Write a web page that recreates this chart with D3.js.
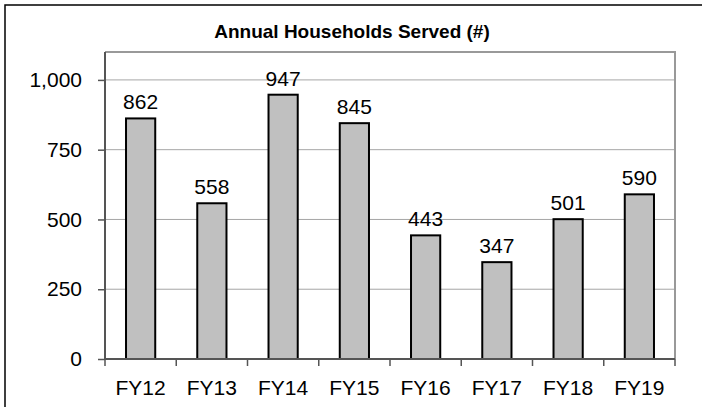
<!DOCTYPE html>
<html>
<head>
	<meta charset="UTF-8">
	<script src="https://d3js.org/d3.v7.min.js"></script>
	<style>
		body { margin: 0; background: #fff; }
		text { font-family: "Liberation Sans", Arial, sans-serif; }
	</style>
</head>
<body>
	<script>
		// Chart data
		var years = ["FY12", "FY13", "FY14", "FY15", "FY16", "FY17", "FY18", "FY19"];
		var households = [862, 558, 947, 845, 443, 347, 501, 590];
		var yTicks = [0, 250, 500, 750, 1000];

		var W = 702, H = 407;
		var margin = {top: 52, right: 27, bottom: 48, left: 105},
			width = W - margin.left - margin.right,
			height = H - margin.top - margin.bottom;

		var svg = d3.select("body").append("svg")
			.attr("width", W)
			.attr("height", H);

		// outer frame (runs off the right and bottom edges)
		svg.append("rect")
			.attr("x", 5).attr("y", 5)
			.attr("width", W + 10).attr("height", H + 10)
			.attr("fill", "none")
			.attr("stroke", "#000")
			.attr("stroke-width", 1.5);

		// title
		svg.append("text")
			.attr("x", 352).attr("y", 38)
			.attr("text-anchor", "middle")
			.style("font-family", "'Liberation Sans Narrow', 'Liberation Sans', Arial, sans-serif")
			.style("font-weight", "bold")
			.style("font-size", "19px")
			.text("Annual Households Served (#)");

		var g = svg.append("g")
			.attr("transform", "translate(" + margin.left + "," + margin.top + ")");

		var x = d3.scaleBand().domain(years).range([0, width]).paddingInner(0.59).paddingOuter(0.295);
		var xb = d3.scalePoint().domain(d3.range(years.length + 1)).range([0, width]);
		var y = d3.scaleLinear().domain([0, 1100]).range([height, 0]);

		// gridlines
		g.selectAll(".grid").data(yTicks.slice(1)).enter().append("line")
			.attr("x1", 0).attr("x2", width)
			.attr("y1", function(d) { return y(d); })
			.attr("y2", function(d) { return y(d); })
			.attr("stroke", "#a6a6a6")
			.attr("stroke-width", 1);

		// plot area border top/right
		g.append("path")
			.attr("d", "M0,0H" + width + "V" + height)
			.attr("fill", "none")
			.attr("stroke", "#999")
			.attr("stroke-width", 2);

		// bars
		g.selectAll(".bar").data(households).enter().append("rect")
			.attr("x", function(d, i) { return x(years[i]); })
			.attr("y", function(d) { return y(d); })
			.attr("width", x.bandwidth())
			.attr("height", function(d) { return height - y(d); })
			.attr("fill", "#c0c0c0")
			.attr("stroke", "#000")
			.attr("stroke-width", 2);

		// value labels
		g.selectAll(".val").data(households).enter().append("text")
			.attr("x", function(d, i) { return x(years[i]) + x.bandwidth() / 2; })
			.attr("y", function(d) { return y(d) - 9; })
			.attr("text-anchor", "middle")
			.style("font-size", "21px")
			.text(function(d) { return d3.format(",")(d); });

		// y axis
		var yAxis = g.append("g")
			.call(d3.axisLeft(y).tickValues(yTicks).tickSize(7).tickPadding(16).tickFormat(d3.format(",")));
		yAxis.select(".domain").attr("stroke", "#555").attr("stroke-width", 2).attr("d", "M0," + height + "V0");
		yAxis.selectAll(".tick line").attr("stroke", "#555").attr("stroke-width", 1.5);
		yAxis.selectAll("text").style("font-size", "21px").attr("fill", "#000")
			.style("font-family", "'Liberation Sans', Arial, sans-serif");

		// x axis: ticks at category boundaries
		var xAxis = g.append("g").attr("transform", "translate(0," + height + ")");
		xAxis.append("line")
			.attr("x1", 0).attr("x2", width)
			.attr("stroke", "#555").attr("stroke-width", 2);
		xAxis.selectAll(".xt").data(d3.range(years.length + 1)).enter().append("line")
			.attr("x1", function(d) { return xb(d); })
			.attr("x2", function(d) { return xb(d); })
			.attr("y1", 0).attr("y2", 7)
			.attr("stroke", "#555").attr("stroke-width", 1.5);
		xAxis.selectAll(".xl").data(years).enter().append("text")
			.attr("x", function(d) { return x(d) + x.bandwidth() / 2; })
			.attr("y", 36)
			.attr("text-anchor", "middle")
			.style("font-size", "21px")
			.text(function(d) { return d; });
	</script>
</body>
</html>
